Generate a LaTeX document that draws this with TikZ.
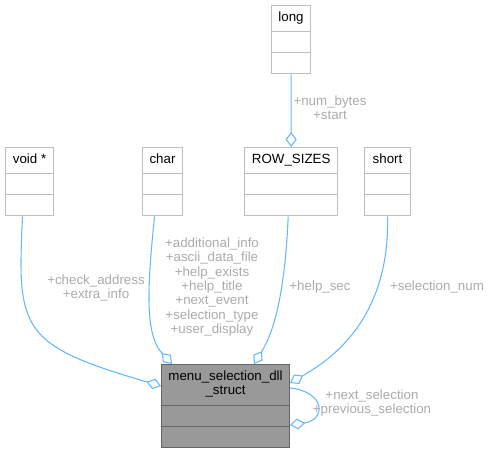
\documentclass[tikz,border=0pt]{standalone}
\usepackage{fontspec}
\setmainfont{Liberation Sans}
\usetikzlibrary{shapes.multipart,arrows.meta,calc}
\definecolor{boxgray}{HTML}{BFBFBF}
\definecolor{maingray}{HTML}{999999}
\definecolor{mainline}{HTML}{666666}
\definecolor{edgeblue}{HTML}{63B8FF}
\definecolor{lblgray}{HTML}{ABABAB}

\begin{document}
\begin{tikzpicture}[x=0.75pt,y=-0.75pt,
		every node/.style={font=\fontsize{10}{10.8}\selectfont},
		cls/.style={rectangle split,rectangle split parts=3,draw=boxgray,fill=white,
			line width=0.8pt,inner xsep=2pt,inner ysep=4pt,anchor=north west,
			rectangle split empty part height=7pt,rectangle split empty part depth=0pt},
		mainbox/.style={cls,draw=mainline,fill=maingray},
		rel/.style={draw=edgeblue,line width=0.8pt,-{Diamond[open,length=11.25pt,width=8.25pt]}},
		lbl/.style={text=lblgray,align=center,inner sep=0pt}]
		\useasboundingbox (0,0) rectangle (491,449);
		% member types
		\node [cls,minimum width=29.25pt] (lng) at (271,5) {\strut long};
		\node [cls,minimum width=36pt] (vd) at (5,147) {\strut void *};
		\node [cls,minimum width=30pt] (chr) at (142,147) {\strut char};
		\node [cls,minimum width=70pt] (rowsizes) at (244,147) {\strut ROW\_SIZES};
		\node [cls,minimum width=34.5pt] (shrt) at (364,147) {\strut short};
		% the struct itself
		\node [mainbox,minimum width=96pt] (menu) at (161,364)
			{\begin{tabular}{@{}c@{}}menu\_selection\_dll\\\_struct\end{tabular}};
		% aggregations
		\draw [rel] (lng.south) -- (rowsizes.north);
		\draw [rel] ($(vd.south)+(-7,0)$) .. controls (17,330) and (20,345) .. ($(menu.north west)+(0,22)$);
		\draw [rel] ($(chr.south)+(-8,0)$) .. controls (147,290) and (145,335) .. ($(menu.north west)+(11,0)$);
		\draw [rel] ($(rowsizes.south)+(-3,0)$) .. controls (285,290) and (275,330) .. ($(menu.north west)+(93,0)$);
		\draw [rel] (shrt.south) .. controls (390,320) and (330,360) .. ($(menu.north east)+(0,19)$);
		\draw [rel] ($(menu.north east)+(0,24)$) .. controls (326,392) and (326,420) .. ($(menu.north east)+(0,61)$);
		% labels
		\node [lbl] (lblbytes) at (330,108) {+num\_bytes\\+start};
		\node [lbl] (lblvoid) at (96,288) {+check\_address\\+extra\_info};
		\node [lbl] (lblchar) at (212,287) {+additional\_info\\+ascii\_data\_file\\+help\_exists\\+help\_title\\+next\_event\\+selection\_type\\+user\_display};
		\node [lbl] (lblhelp) at (320,287) {+help\_sec};
		\node [lbl] (lblsel) at (437,287) {+selection\_num};
		\node [lbl] (lblself) at (372,403) {+next\_selection\\+previous\_selection};
\end{tikzpicture}
\end{document}
